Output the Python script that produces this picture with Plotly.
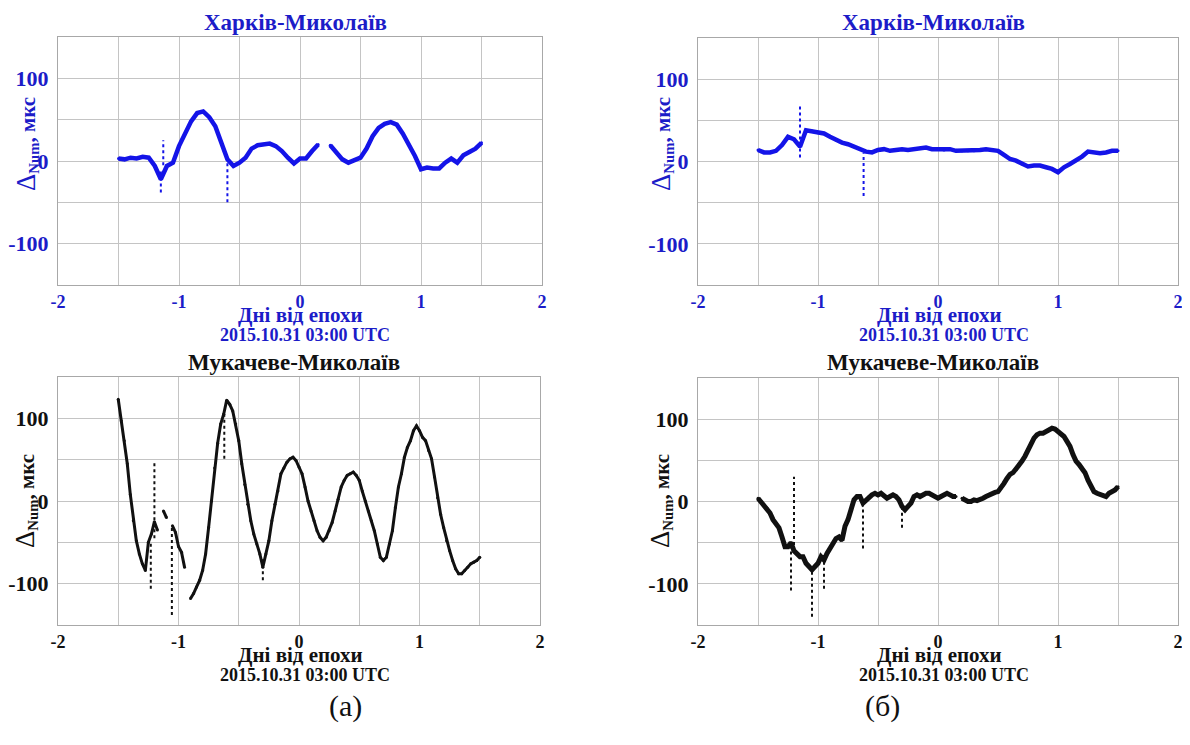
import plotly.graph_objects as go

# the html body keeps an 8 px margin: figure pixel = page pixel - 8
PAGE_OFF = 8
W, H = 1190 - PAGE_OFF, 745 - PAGE_OFF

# ---------------- data ----------------
# Top panels: step 0.05 day from -1.5 to 1.5
x_top = [round(-1.5 + 0.05 * i, 3) for i in range(61)]
kh_a = [3, 2, 4, 3, 5, 4, -6, -22, -6, -2,
        18, 33, 48, 58, 60, 53, 42, 22, 2, -6,
        -2, 4, 15, 19, 20, 21, 18, 12, 4, -3,
        3, 3, 12, 20, None, 19, 10, 2, -2, 1,
        4, 15, 30, 40, 45, 47, 44, 33, 20, 6,
        -10, -8, -9, -9, -2, 3, -2, 7, 11, 15,
        22]
kh_b = [14, 11, 11, 13, 20, 30, 27, 18, 38, 37,
        35, 34, 30, 26, 23, 21, 18, 15, 12, 11,
        14, 15, 13, 14, 15, 14, 15, 16, 17, 15,
        15, 14, 15, 13, 13, 13, 13, 14, 15, 14,
        13, 8, 3, 1, -3, -6, -5, -5, -7, -9,
        -13, -7, -3, 1, 6, 12, 11, 10, 11, 13,
        13]

# Bottom panels: step 0.025 day from -1.5 to 1.5
x_bot = [round(-1.5 + 0.025 * i, 4) for i in range(121)]
mu_a = [123, 97, 73, 45, 8, -24, -48, -64, -76, -84,
        -50, -40, -25, -35, None, -12, -20, None, -30, -38,
        -55, -62, -80, None, -118, -112, -104, -96, -84, -64,
        -32, 0, 40, 70, 93, 105, 122, 117, 109, 93,
        73, 45, 20, -4, -24, -40, -52, -64, -80, -64,
        -48, -24, -4, 12, 33, 40, 47, 51, 53, 49,
        41, 33, 17, 0, -12, -24, -36, -44, -48, -44,
        -36, -26, -12, 2, 17, 25, 31, 33, 35, 31,
        25, 12, 0, -12, -24, -36, -52, -68, -72, -68,
        -52, -36, -8, 17, 33, 53, 65, 73, 85, 91,
        85, 77, 73, 61, 51, 29, 4, -16, -32, -48,
        -60, -72, -82, -88, -88, -84, -80, -76, -74, -72,
        -68]
mu_b = [4, 0, -4, -8, -14, -22, -26, -32, -43, -55,
        -55, -50, -60, -63, -67, -67, -75, -79, -83, -79,
        -75, -67, -71, -63, -57, -51, -45, -43, -47, -30,
        -22, -10, 2, 6, 6, -2, 2, 6, 8, 10,
        8, 10, 6, 4, 6, 8, 6, 2, -6, -10,
        -6, -2, 6, 8, 6, 8, 10, 10, 8, 6,
        4, 6, 8, 10, 8, 6, 6, None, 4, 2,
        0, 0, 2, 1, 2, 4, 6, 8, 9, 11,
        12, 16, 22, 28, 33, 35, 39, 43, 49, 55,
        63, 71, 77, 81, 83, 83, 85, 87, 89, 88,
        85, 81, 79, 73, 67, 57, 49, 45, 41, 35,
        26, 18, 12, 10, 9, 8, 6, 10, 12, 14,
        18]

# isolated spikes: x, lowest value, highest value
spk_kh_a_x, spk_kh_a_lo, spk_kh_a_hi = [-1.15, -1.13, -0.60], [-38, -5, -50], [-10, 25, 5]
spk_kh_b_x, spk_kh_b_lo, spk_kh_b_hi = [-1.15, -0.62], [5, -42], [70, 10]
spk_mu_a_x = [-1.23, -1.20, -1.055, -0.62, -0.30]
spk_mu_a_lo = [-106, -45, -138, 51, -96]
spk_mu_a_hi = [-50, 47, -30, 105, -70]
spk_mu_b_x = [-1.225, -1.20, -1.05, -0.95, -0.625, -0.30]
spk_mu_b_lo = [-108, -60, -140, -106, -57, -32]
spk_mu_b_hi = [-50, 30, -80, -65, 0, -5]

x_tickvals = [-2, -1, 0, 1, 2]
x_ticktext = ["-2", "-1", "0", "1", "2"]
x_minor = [-1.5, -0.5, 0.5, 1.5]
y_tickvals = [-100, 0, 100]
y_ticktext = ["-100", "0", "100"]
y_minor = [-50, 50]

title_top = "Харків-Миколаїв"
title_bot = "Мукачеве-Миколаїв"
x_title = "Дні від епохи"
x_sub = "2015.10.31 03:00 UTC"
y_title = "<span style='font-size:27px'>Δ</span><sub><b>Num</b></sub><b>, мкс</b>"
labels = ["(а)", "(б)"]

BLUE = "#1414e8"
BLUE_TXT = "#1c1cc8"
BLACK = "#111111"
FONT = "Liberation Serif"
GRID = "#c4c4c4"

fig = go.Figure()


def spike_xy(xs, lo, hi):
    xx, yy = [], []
    for a, b, c in zip(xs, lo, hi):
        xx += [a, a, None]
        yy += [b, c, None]
    return xx, yy


panels = [
    (x_top, kh_a, (spk_kh_a_x, spk_kh_a_lo, spk_kh_a_hi), BLUE, 4.5, ""),
    (x_top, kh_b, (spk_kh_b_x, spk_kh_b_lo, spk_kh_b_hi), BLUE, 4.5, "2"),
    (x_bot, mu_a, (spk_mu_a_x, spk_mu_a_lo, spk_mu_a_hi), BLACK, 3, "3"),
    (x_bot, mu_b, (spk_mu_b_x, spk_mu_b_lo, spk_mu_b_hi), BLACK, 5, "4"),
]
for xs, ys, spk, col, lw, suf in panels:
    fig.add_trace(go.Scatter(x=xs, y=ys, mode="lines+markers",
                             line=dict(color=col, width=lw),
                             marker=dict(color=col, size=3),
                             connectgaps=False, showlegend=False,
                             xaxis="x" + suf, yaxis="y" + suf))
    sx, sy = spike_xy(*spk)
    fig.add_trace(go.Scatter(x=sx, y=sy, mode="lines",
                             line=dict(color=col, width=2, dash="dot"),
                             showlegend=False, xaxis="x" + suf, yaxis="y" + suf))


def fx(px):
    return (px - PAGE_OFF) / W


def fy(py):
    return 1 - (py - PAGE_OFF) / H


# panel boxes in page pixels: left, right, top, bottom
boxes = {
    "": (58, 542, 37, 285),
    "2": (698, 1178, 38, 285),
    "3": (58, 540, 377, 625),
    "4": (698, 1178, 378, 625),
}
tick_colors = {"": BLUE_TXT, "2": BLUE_TXT, "3": BLACK, "4": BLACK}
lay = {}
for suf, (l, r, t, b) in boxes.items():
    col = tick_colors[suf]
    lay["xaxis" + suf] = dict(
        domain=[fx(l), fx(r)], range=[-2, 2], anchor="y" + suf,
        tickvals=x_tickvals, ticktext=x_ticktext,
        tickfont=dict(family=FONT, size=18, color=col, weight="bold"),
        showgrid=True, gridcolor=GRID, gridwidth=1,
        minor=dict(tickvals=x_minor, showgrid=True, gridcolor=GRID, gridwidth=1, ticks=""),
        showline=True, linecolor="#a8a8a8", linewidth=1.2, mirror=True,
        zeroline=False, ticks="", ticklabelstandoff=0, ticklabeloverflow="allow",
        automargin=False, fixedrange=True)
    lay["yaxis" + suf] = dict(
        domain=[fy(b), fy(t)], range=[-150, 150], anchor="x" + suf,
        tickvals=y_tickvals, ticktext=y_ticktext,
        tickfont=dict(family=FONT, size=22, color=col, weight="bold"),
        showgrid=True, gridcolor=GRID, gridwidth=1,
        minor=dict(tickvals=y_minor, showgrid=True, gridcolor=GRID, gridwidth=1, ticks=""),
        showline=True, linecolor="#a8a8a8", linewidth=1.2, mirror=True,
        zeroline=False, ticks="", ticklabelstandoff=4, ticklabeloverflow="allow",
        automargin=False, fixedrange=True)

annotations = []


def ann(text, px, py, size, color, bold=True, angle=0):
    annotations.append(dict(
        text=text, x=fx(px), y=fy(py), xref="paper", yref="paper",
        showarrow=False, xanchor="center", yanchor="middle", textangle=angle,
        font=dict(family=FONT, size=size, color=color,
                  weight="bold" if bold else "normal")))


ann(title_top, 295, 22, 23, BLUE_TXT)
ann(title_top, 933, 22, 23, BLUE_TXT)
ann(title_bot, 294, 362, 23, BLACK)
ann(title_bot, 933, 362, 23, BLACK)
for cx, dy, col in [(300, 0, BLUE_TXT), (939, 0, BLUE_TXT), (300, 340, BLACK), (939, 340, BLACK)]:
    ann(x_title, cx, 315 + dy, 21, col)
    ann(x_sub, cx + 5, 335 + dy, 18, col)
for cx, cy, col in [(26, 144, BLUE_TXT), (661, 144, BLUE_TXT), (26, 501, BLACK), (661, 501, BLACK)]:
    ann(y_title, cx, cy, 21, col, bold=False, angle=-90)
ann(labels[0], 345, 706, 30, "#111111", bold=False)
ann(labels[1], 882, 706, 30, "#111111", bold=False)

fig.update_layout(width=W, height=H, autosize=False,
                  margin=dict(l=0, r=0, t=0, b=0, autoexpand=False),
                  paper_bgcolor="white", plot_bgcolor="white",
                  annotations=annotations, **lay)

fig.write_html("out.html")
